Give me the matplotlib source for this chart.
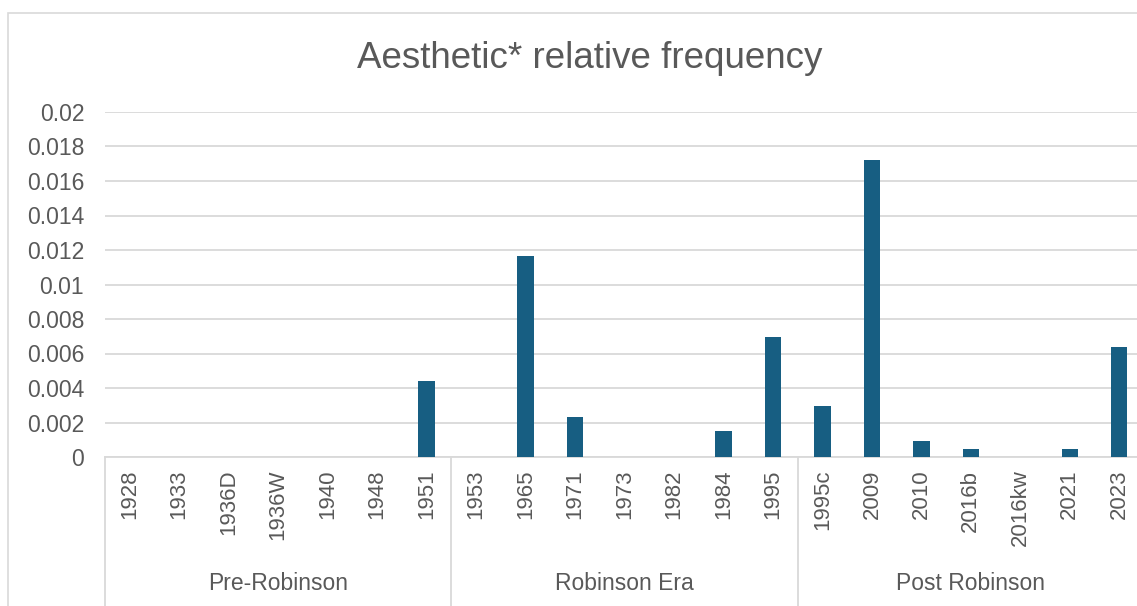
import matplotlib
matplotlib.use("Agg")
import matplotlib.pyplot as plt
from matplotlib.patches import Rectangle

# Editions and their relative frequency of "aesthetic*"
editions = [
    "1928", "1933", "1936D", "1936W", "1940", "1948", "1951",
    "1953", "1965", "1971", "1973", "1982", "1984", "1995",
    "1995c", "2009", "2010", "2016b", "2016kw", "2021", "2023",
]
frequency = [
    0, 0, 0, 0, 0, 0, 0.00438,
    0, 0.01166, 0.00229, 0, 0, 0.00153, 0.00697,
    0.00293, 0.01723, 0.00095, 0.00046, 0, 0.00046, 0.00637,
]
eras = ["Pre-Robinson", "Robinson Era", "Post Robinson"]
era_sizes = [7, 7, 7]

TEXT = "#595959"
GRID = "#D9D9D9"
BAR = "#175E82"

plt.rcParams["font.family"] = ["Liberation Sans", "DejaVu Sans"]

W, H = 1137, 606
fig = plt.figure(figsize=(W / 100, H / 100), dpi=100)

# light frame around the chart area
fig.patches.append(Rectangle((8 / W, -0.1), 1.2, (H - 13) / H + 0.1,
                             transform=fig.transFigure, fill=False,
                             edgecolor=GRID, linewidth=1.2))

left, right, bottom, top = 105, 1144, 457, 112
ax = fig.add_axes([left / W, (H - bottom) / H, (right - left) / W, (bottom - top) / H])

x = list(range(len(editions)))
ax.bar(x, frequency, width=0.33, color=BAR, zorder=3)

ax.set_xlim(-0.5, len(editions) - 0.5)
ax.set_ylim(0, 0.02)
yticks = [i * 0.002 for i in range(11)]
ax.set_yticks(yticks)
ax.set_yticklabels(["0"] + [f"{v:g}" for v in yticks[1:]], fontsize=16.5, color=TEXT)
ax.yaxis.grid(True, color=GRID, linewidth=1.3, zorder=0)
ax.tick_params(axis="y", length=0, pad=15)

ax.set_xticks(x)
ax.set_xticklabels(editions, rotation=90, fontsize=16, color=TEXT, va="top", ha="center")
ax.tick_params(axis="x", length=0, pad=9)

for side in ["top", "right", "left"]:
    ax.spines[side].set_visible(False)
ax.spines["bottom"].set_color(GRID)
ax.spines["bottom"].set_linewidth(1.3)

# second level of the category axis: era separators and names
trans = ax.get_xaxis_transform()
drop = -(H - bottom) / (bottom - top) - 0.05
start = -0.5
ax.plot([start, start], [0, drop], transform=trans, color=GRID, lw=1.3, clip_on=False)
for era, size in zip(eras, era_sizes):
    end = start + size
    ax.plot([end, end], [0, drop], transform=trans, color=GRID, lw=1.3, clip_on=False)
    ax.text((start + end) / 2, -(584 - bottom) / (bottom - top), era, transform=trans,
            ha="center", va="center", fontsize=16.5, color=TEXT)
    start = end

fig.text(590 / W, 1 - 58 / H, "Aesthetic* relative frequency", ha="center", va="center",
         fontsize=26.5, color=TEXT)

fig.savefig("out.png", dpi=100)
